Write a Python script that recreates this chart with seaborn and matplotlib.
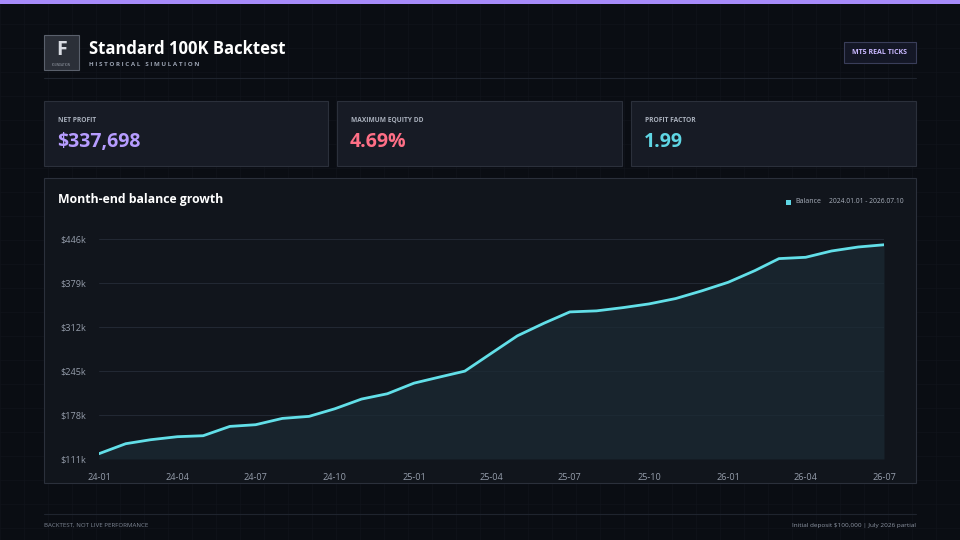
import numpy as np
import pandas as pd
import seaborn as sns
import matplotlib.pyplot as plt
from matplotlib.patches import Rectangle
from matplotlib.ticker import FuncFormatter

# month-end balance, in thousands of dollars
months = pd.date_range('2024-01-01', periods=31, freq='MS')
balance_k = [119.1, 134.3, 140.4, 145.0, 146.5, 160.7, 163.3, 172.9, 176.0, 187.6,
             202.4, 210.5, 226.7, 236.4, 245.0, 272.4, 298.8, 318.1, 335.3, 336.9,
             341.9, 347.5, 355.7, 367.3, 380.5, 398.3, 416.6, 418.6, 428.2, 434.3, 437.7]
y_ticks = [111, 178, 245, 312, 379, 446]

kpi_labels = ['NET PROFIT', 'MAXIMUM EQUITY DD', 'PROFIT FACTOR']
kpi_values = ['$337,698', '4.69%', '1.99']
kpi_colors = ['#b69cff', '#ff6f86', '#5fd6e4']

df = pd.DataFrame({'month': months, 'balance': balance_k})

BG = '#0a0d13'
W, H = 960, 540

sns.set_theme(style='dark')
plt.rcParams['font.family'] = ['Open Sans', 'DejaVu Sans']

fig = plt.figure(figsize=(9.6, 5.4), dpi=100, facecolor=BG)

def fx(x):
    return x / W

def fy(y):
    return 1 - y / H

def box(x0, y0, x1, y1, fc, ec, lw=0.8, z=-1):
    fig.patches.append(Rectangle((fx(x0), fy(y1)), fx(x1 - x0), (y1 - y0) / H,
                                 transform=fig.transFigure, fc=fc, ec=ec, lw=lw, zorder=z))

def line(x0, x1, y, c='#1f242e'):
    fig.add_artist(plt.Line2D([fx(x0), fx(x1)], [fy(y), fy(y)], color=c, lw=0.8,
                              transform=fig.transFigure, zorder=-1))

# faint background grid
for gx in range(0, W, 24):
    fig.add_artist(plt.Line2D([fx(gx), fx(gx)], [0, 1], color='#10141b', lw=0.5,
                              transform=fig.transFigure, zorder=-2))
for gy in range(0, H, 24):
    fig.add_artist(plt.Line2D([0, 1], [fy(gy), fy(gy)], color='#10141b', lw=0.5,
                              transform=fig.transFigure, zorder=-2))

# top accent bar
box(0, 0, W, 4, '#a78bfa', 'none', lw=0)

# header
box(44, 35, 79, 70, '#2b2f38', '#5a606c', lw=0.8)
fig.text(fx(61.5), fy(50), 'F', color='#d8dbe2', fontsize=14, fontweight='bold',
         ha='center', va='center')
fig.text(fx(61.5), fy(65), 'FOUNDATION', color='#9aa0ab', fontsize=2.2,
         ha='center', va='center')
fig.text(fx(89), fy(49), 'Standard 100K Backtest', color='white', fontsize=12,
         fontweight='bold', va='center')
fig.text(fx(89), fy(65), 'H I S T O R I C A L   S I M U L A T I O N', color='#9aa2b1',
         fontsize=4.5, fontweight='bold', va='center')
line(44, 916, 78)

box(844, 42, 916, 63, '#141726', '#3a3e5a', lw=0.8)
fig.text(fx(880), fy(52.5), 'MT5 REAL TICKS', color='#c9b8ff', fontsize=5,
         fontweight='bold', ha='center', va='center')

# KPI cards
cards = [(44, 328), (337, 622), (631, 916)]
for (x0, x1), lab, val, col in zip(cards, kpi_labels, kpi_values, kpi_colors):
    box(x0, 101, x1, 166, '#171b25', '#2b303b', lw=0.8)
    fig.text(fx(x0 + 14), fy(120), lab, color='#aab1bd', fontsize=4.8,
             fontweight='bold', va='center')
    fig.text(fx(x0 + 13), fy(142), val, color=col, fontsize=14,
             fontweight='bold', va='center')

# chart panel
box(44, 178, 916, 483, '#11151c', '#2b303b', lw=0.8)
fig.text(fx(58), fy(200), 'Month-end balance growth', color='white', fontsize=8.8,
         fontweight='bold', va='center')
box(786, 199.5, 791, 204.5, '#5fd6e4', 'none', lw=0, z=3)
fig.text(fx(795), fy(202), 'Balance', color='#aab1bd', fontsize=5, va='center')
fig.text(fx(829), fy(202), '2024.01.01 - 2026.07.10', color='#aab1bd', fontsize=4.9,
         va='center')

ax = fig.add_axes([fx(99), fy(459), fx(884 - 99), (459 - 239) / H])
ax.set_facecolor('#11151c')
sns.lineplot(data=df, x='month', y='balance', ax=ax, color='#62dfe8', linewidth=2)
ax.fill_between(df['month'], df['balance'], y_ticks[0], color='#1b2a33', alpha=0.75, lw=0)

ax.set_xlim(months[0], months[-1])
ax.set_ylim(y_ticks[0], y_ticks[-1] + 0.5)
ax.set_yticks(y_ticks)
ax.yaxis.set_major_formatter(FuncFormatter(lambda v, p: f'${int(round(v))}k'))
xt = months[::3]
ax.set_xticks(xt)
ax.set_xticklabels([d.strftime('%y-%m') for d in xt])
ax.tick_params(axis='both', colors='#959dab', labelsize=6.6, length=0)
ax.tick_params(axis='y', pad=9)
ax.tick_params(axis='x', pad=10)
ax.grid(axis='y', color='#232934', lw=0.7)
ax.grid(axis='x', visible=False)
ax.set_xlabel('')
ax.set_ylabel('')
for s in ax.spines.values():
    s.set_visible(False)

# footer
line(44, 916, 514)
fig.text(fx(44), fy(525), 'BACKTEST, NOT LIVE PERFORMANCE', color='#7f8795', fontsize=4.4,
         va='center')
fig.text(fx(916), fy(525), 'Initial deposit $100,000 | July 2026 partial', color='#8f97a5',
         fontsize=4.6, va='center', ha='right')

fig.savefig('out.png', dpi=100, facecolor=BG)
